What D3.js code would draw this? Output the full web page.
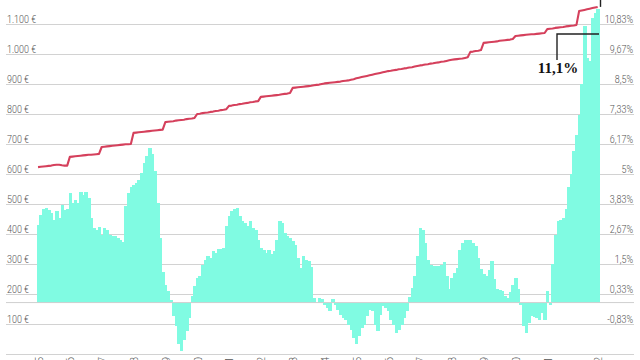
<!DOCTYPE html>
<html><head><meta charset="utf-8">
<script src="https://cdn.jsdelivr.net/npm/d3@7"></script>
<style>body{margin:0;background:#fff}svg{display:block}</style>
</head><body><svg id="c" width="640" height="360"></svg>
<script>
const startMonth = new Date(2005, 0, 1);
const endMonth = new Date(2022, 8, 1); // exclusive (last month: Aug 2022)

// Monthly % (right axis, bars)
const cpi = [
  3.0, 3.4, 3.62, 3.68, 3.6, 3.5, 3.2, 3.55, 3.3, 3.8, 3.6, 3.65,
  4.26, 3.88, 4.0, 3.88, 4.29, 4.2, 4.29, 4.07, 3.3, 2.9, 2.84, 2.94,
  2.64, 2.9, 2.84, 2.64, 2.58, 2.58, 2.5, 2.45, 2.35, 3.75, 4.26, 4.5,
  4.59, 4.65, 4.76, 5.04, 5.43, 5.69, 6.02, 5.76, 5.11, 3.88, 2.5, 1.2,
  0.7, 0.45, 0.1, -0.53, -0.92, -1.6, -1.9, -1.44, -1.1, -0.6, 0.25, 0.64,
  0.96, 1.02, 1.48, 1.67, 1.8, 1.73, 1.99, 1.93, 2.08, 2.08, 2.12, 2.97,
  3.36, 3.55, 3.62, 3.68, 3.36, 3.16, 3.1, 2.97, 3.16, 2.9, 2.84, 2.45,
  2.12, 2.06, 1.93, 2.06, 1.87, 1.99, 2.45, 3.16, 3.1, 2.71, 2.58, 2.51,
  2.38, 2.25, 1.73, 1.35, 1.8, 1.67, 1.6, 1.4, 0.18, 0.0, 0.18, 0.14,
  -0.08, -0.2, -0.33, 0.12, -0.08, -0.27, -0.47, -0.6, -0.66, -0.86, -1.05, -1.37,
  -1.63, -1.31, -0.98, -0.86, -0.53, -0.27, -0.33, -0.86, -1.11, -0.47, -0.14, -0.2,
  -0.33, -0.66, -0.86, -1.18, -1.05, -0.86, -0.6, -0.33, 0.22, 0.57, 1.02, 1.8,
  2.9, 2.84, 2.32, 1.67, 1.48, 1.41, 1.41, 1.44, 1.48, 1.57, 1.02, 0.51,
  0.96, 1.15, 1.35, 2.06, 2.3, 2.45, 2.45, 2.42, 2.3, 2.19, 1.74, 1.3,
  1.1, 1.02, 1.28, 1.6, 0.9, 0.51, 0.5, 0.44, 0.25, 0.18, 0.4, 0.7,
  0.96, 0.51, -0.1, -0.9, -1.2, -0.79, -0.53, -0.55, -0.6, -0.66, -0.4, -0.66,
  0.44, -0.08, 1.5, 2.64, 3.16, 3.2, 3.3, 3.65, 4.5, 5.0, 5.9, 6.5,
  7.3, 8.5, 10.75, 9.5, 9.4, 11.05, 11.25, 11.4
];

// Monthly € (left axis, line)
const pension = [
  623, 624, 625, 626, 627, 628, 630, 631, 631, 629, 628, 628,
  657, 658, 659, 660, 661, 662, 663, 664, 664, 665, 666, 667,
  690, 691, 692, 693, 694, 695, 696, 697, 698, 699, 699, 700,
  737, 738, 739, 740, 741, 742, 743, 744, 745, 746, 747, 748,
  773, 774, 775, 776, 778, 779, 780, 781, 783, 784, 785, 787,
  800, 801, 803, 804, 805, 807, 808, 810, 811, 813, 814, 816,
  827, 828, 830, 831, 833, 834, 836, 837, 839, 840, 842, 843,
  857, 858, 859, 860, 861, 862, 863, 864, 866, 867, 868, 870,
  887, 888, 889, 890, 891, 892, 893, 894, 896, 897, 898, 900,
  902, 903, 904, 905, 906, 907, 908, 910, 911, 912, 914, 916,
  919, 921, 923, 925, 927, 929, 931, 933, 935, 937, 939, 941,
  943, 944, 946, 947, 949, 950, 952, 953, 955, 956, 958, 960,
  962, 963, 965, 966, 968, 969, 971, 972, 974, 975, 977, 979,
  981, 982, 983, 984, 985, 987, 989, 1007, 1008, 1010, 1011, 1013,
  1037, 1038, 1039, 1040, 1041, 1042, 1044, 1045, 1046, 1047, 1048, 1050,
  1060, 1061, 1062, 1063, 1064, 1065, 1066, 1066, 1067, 1068, 1069, 1070,
  1083, 1084, 1085, 1087, 1088, 1089, 1090, 1092, 1093, 1094, 1095, 1097,
  1143, 1145, 1147, 1149, 1151, 1153, 1155, 1157
];

const eurTicks = [0, 100, 200, 300, 400, 500, 600, 700, 800, 900, 1000, 1100];
const eurLabels = ["", "100 €", "200 €", "300 €", "400 €", "500 €", "600 €", "700 €", "800 €", "900 €", "1.000 €", "1.100 €"];
const pctTicks = [-0.8333, 0.3333, 1.5, 2.6667, 3.8333, 5, 6.1667, 7.3333, 8.5, 9.6667, 10.8333];
const pctLabels = ["-0,83%", "0,33%", "1,5%", "2,67%", "3,83%", "5%", "6,17%", "7,33%", "8,5%", "9,67%", "10,83%"];
const xLabels = ["2005","2006","2007","2008","2009","2010","2011","2012","2013","2014","2015","2016","2017","2018","2019","2020","2021","2022"];
const annotationText = "11,1%";

const months = d3.timeMonth.range(startMonth, endMonth);
const svg = d3.select("#c");
const FONT = "Roboto, 'Open Sans', sans-serif";
const SX = 0.78;

const x = d3.scaleBand().domain(months).range([36.7, 599]).paddingInner(0).paddingOuter(0);
const yEur = d3.scaleLinear().domain([0, 1100]).range([354, 24]);
const yPct = d3.scaleLinear().domain([-2, 10.8333]).range([354, 24]);

// grid + left labels
const gL = svg.append("g").attr("transform", "translate(6,0)")
  .call(d3.axisRight(yEur).tickValues(eurTicks).tickSize(628).tickFormat((d, i) => eurLabels[i]));
gL.select(".domain").remove();
gL.selectAll(".tick line").attr("stroke", "#d2d2d2").attr("stroke-width", 1);
gL.selectAll(".tick text")
  .attr("x", 1 / SX).attr("dy", -1.8).attr("text-anchor", "start")
  .attr("transform", `scale(${SX},1)`)
  .attr("fill", "#555").style("font-family", FONT).style("font-weight", 300).style("font-size", "11.5px");

// bars
const bw = x.bandwidth();
svg.append("g").attr("shape-rendering", "crispEdges").selectAll("rect").data(cpi).join("rect")
  .attr("x", (d, i) => x(months[i]))
  .attr("width", bw + 0.8)
  .attr("y", d => Math.min(yPct(d), yPct(0)))
  .attr("height", d => Math.abs(yPct(d) - yPct(0)))
  .attr("fill", "#80fbe2");

// zero line
svg.append("line").attr("x1", 6).attr("x2", 634)
  .attr("y1", yPct(0)).attr("y2", yPct(0))
  .attr("stroke", "#cfcfcf").attr("stroke-width", 1);

// line
const line = d3.line().x((d, i) => x(months[i]) + bw / 2).y(d => yEur(d));
svg.append("path").datum(pension).attr("d", line)
  .attr("fill", "none").attr("stroke", "#d5405c").attr("stroke-width", 2.1)
  .attr("stroke-linejoin", "round");

// right labels
const gR = svg.append("g").attr("transform", "translate(634,0)")
  .call(d3.axisLeft(yPct).tickValues(pctTicks).tickSize(0).tickFormat((d, i) => pctLabels[i]));
gR.select(".domain").remove();
gR.selectAll(".tick text")
  .attr("x", -1 / SX).attr("dy", -1.8).attr("text-anchor", "end")
  .attr("transform", `scale(${SX},1)`)
  .attr("fill", "#555").style("font-family", FONT).style("font-weight", 300).style("font-size", "11.5px");

// x axis (labels mostly cut off at the bottom, as in the source)
const tickMonths = months.filter(d => d.getMonth() === 0 && d.getFullYear() < 2022).concat([months[months.length - 1]]);
const gX = svg.append("g").attr("transform", "translate(0,354)")
  .call(d3.axisBottom(x).tickValues(tickMonths).tickSize(0).tickFormat((d, i) => xLabels[i]));
gX.select(".domain").remove();
gX.selectAll(".tick text")
  .attr("transform", "rotate(-90)").attr("text-anchor", "end")
  .attr("x", -3).attr("y", 0).attr("dy", "0.45em")
  .attr("fill", "#555").style("font-family", FONT).style("font-weight", 300).style("font-size", "10px");

// annotations
const lastX = x(months[months.length - 1]) + bw;
const ann = svg.append("g").attr("stroke", "#222").attr("stroke-width", 1.4).attr("fill", "none");
ann.append("path").attr("d", `M${lastX},34 H${lastX - 42} V60`);
ann.append("path").attr("d", `M${lastX + 1.5},${yEur(pension[pension.length - 1])} V-2`);
svg.append("text").attr("x", lastX - 41).attr("y", 73).attr("text-anchor", "middle")
  .attr("fill", "#111").style("font-family", "'Liberation Serif', serif").style("font-weight", 700)
  .style("font-size", "15px").text(annotationText);
</script></body></html>
